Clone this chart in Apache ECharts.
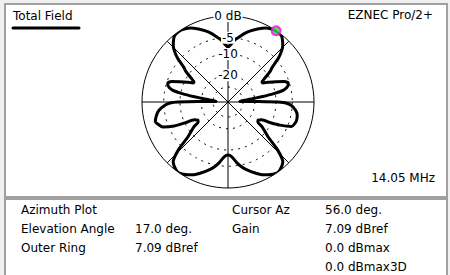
<!DOCTYPE html>
<html><head><meta charset="utf-8">
<script src="https://cdn.jsdelivr.net/npm/echarts@6/dist/echarts.min.js"></script>
<style>html,body{margin:0;padding:0;background:#f0f0f0;} #c{width:450px;height:275px;}</style>
</head><body><div id="c"></div>
<script>
// Azimuth (deg, EZNEC convention: 0 = right, counter-clockwise) and gain (dB relative to max)
const azimuth = [0,1,2,4,6,8,10,12,15,17.5,20,23,26,29,31,33,36,38,41,44,46,51,56,59,63,68,72,76,80,84,87,90,
  93,96,100,104,108,112,117,121,124,129,134,136,139,142,144,147,149,151,154,157,160,162.5,165,168,170,172,174,176,178,179,180,
  181,183,187,191,195,198,201,204,206,208,211,213.7,216,221,224,227.5,232.6,236,241,245,249,254,258,262,266,270,
  274,278,282,286,291,295,299,304,307.4,312.5,316,319,324,326.3,329,332,334,336,339,342,345,349,353,357,359,360];
const gainDb = [-9.3,-18,-31,-33.8,-27.8,-19.9,-11.5,-7.1,-5.6,-5.3,-6.2,-8.6,-11.1,-13.6,-13.1,-11.5,-8.6,-7.4,-4.3,-2.35,-1.5,-0.2,0,-0.2,-0.6,-1.5,-2.35,-3.3,-4.5,-5.6,-6.8,-7.7,
  -6.8,-5.6,-4.5,-3.3,-2.35,-1.5,-0.6,-0.2,0,-0.2,-1.5,-2.35,-4.3,-7.4,-8.6,-11.5,-13.1,-13.6,-11.1,-8.6,-6.2,-5.3,-5.6,-7.1,-11.5,-19.9,-27.8,-33.8,-31,-18,-9.3,
  -6.8,-5.3,-3.6,-2.8,-2.3,-2.8,-3.6,-6.5,-10.4,-14,-15.4,-15,-12.3,-8.3,-3.8,-1.0,-0.1,0,-0.6,-1.2,-2.1,-3.3,-4.4,-5.9,-7.7,-8.3,
  -7.7,-5.9,-4.4,-3.3,-2.1,-1.2,-0.6,0,-0.1,-1.0,-3.8,-8.3,-12.3,-15,-15.4,-14,-10.4,-7.1,-4.0,-3.5,-3.3,-3.4,-4.0,-5.3,-6.8,-9.3];
const ringDb = [0,-5,-10,-20,-30];
const ringLabels = ['0 dB','-5','-10','-20',''];
const cursorAz = [56];
const cursorDb = [0];
const legendName = 'Total Field';
const programName = 'EZNEC Pro/2+';
const freqText = '14.05 MHz';
const infoCol1 = ['Azimuth Plot','Elevation Angle','Outer Ring'];
const infoCol2 = ['','17.0 deg.','7.09 dBref'];
const infoCol3 = ['Cursor Az','Gain'];
const infoCol4 = ['56.0 deg.','7.09 dBref','0.0 dBmax','0.0 dBmax3D'];

// ARRL log radial scale
function arrl(db){ const d = Math.max(db, -45); return Math.pow(0.89, -d/2); }

const FONT = '12px "DejaVu Sans"';
const chart = echarts.init(document.getElementById('c'), null, {renderer:'svg'});

const graphics = [
  {type:'rect', z:-100, shape:{x:4,y:3,width:444,height:195}, style:{fill:'#a0a0a0'}},
  {type:'rect', z:-99, shape:{x:6,y:5,width:440,height:191}, style:{fill:'#ffffff'}},
  {type:'rect', z:-100, shape:{x:4,y:198,width:444,height:82}, style:{fill:'#a0a0a0'}},
  {type:'rect', z:-99, shape:{x:6,y:200,width:440,height:80}, style:{fill:'#ffffff'}},
  {type:'text', z:50, x:13, y:16, style:{text:legendName, font:FONT, fill:'#000', align:'left', verticalAlign:'middle'}},
  {type:'line', z:50, shape:{x1:13,y1:28,x2:79,y2:28}, style:{stroke:'#000', lineWidth:3, lineCap:'round'}},
  {type:'text', z:50, x:433, y:15, style:{text:programName, font:FONT, fill:'#000', align:'right', verticalAlign:'middle'}},
  {type:'text', z:50, x:435, y:178, style:{text:freqText, font:FONT, fill:'#000', align:'right', verticalAlign:'middle'}}
];
const rowY = [210, 229, 248, 267];
const colX = [21, 135, 232, 325];
[infoCol1, infoCol2, infoCol3, infoCol4].forEach((col, ci) => {
  col.forEach((t, ri) => {
    if (!t) return;
    graphics.push({type:'text', z:50, x:colX[ci], y:rowY[ri], style:{text:t, font:FONT, fill:'#000', align:'left', verticalAlign:'middle'}});
  });
});

const ringData = ringDb.map((d,i)=>[arrl(d), 90, i]);

chart.setOption({
  animation:false,
  graphic: graphics,
  polar: {center:[228,102], radius:86},
  angleAxis: {type:'value', min:0, max:360, interval:45, startAngle:0, clockwise:false,
    axisLine:{show:true, lineStyle:{color:'#000', width:1}},
    axisTick:{show:false}, axisLabel:{show:false},
    splitLine:{show:true, lineStyle:{color:'#000', width:1}}},
  radiusAxis: {type:'value', min:0, max:1, axisLine:{show:false}, axisTick:{show:false},
    axisLabel:{show:false}, splitLine:{show:false}},
  series: [
    {type:'custom', coordinateSystem:'polar', z:3, silent:true,
      data: ringData,
      renderItem: function(params, api){
        const cs = params.coordSys;
        const p = api.coord([api.value(0), api.value(1)]);
        const rad = Math.hypot(p[0]-cs.cx, p[1]-cs.cy);
        const idx = api.value(2);
        if (idx === 0) return {type:'group', children:[]};
        return {type:'circle', shape:{cx:cs.cx, cy:cs.cy, r:rad},
          style:{fill:null, stroke:'#000', lineWidth:1, lineDash:[2,5]}};
      }},
    {type:'line', coordinateSystem:'polar', z:5, showSymbol:false, smooth:0.25,
      data: azimuth.map((a,i)=>[arrl(gainDb[i]), a]),
      lineStyle:{color:'#000', width:3}},
    {type:'custom', coordinateSystem:'polar', z:10, silent:true,
      data: ringData,
      renderItem: function(params, api){
        const cs = params.coordSys;
        const p = api.coord([api.value(0), api.value(1)]);
        const idx = api.value(2);
        if (!ringLabels[idx]) return {type:'group', children:[]};
        return {type:'text', x:p[0], y:p[1],
          style:{text:ringLabels[idx], font:FONT, fill:'#000', align:'center', verticalAlign:'middle',
            backgroundColor:'#fff', padding:[0,1]}};
      }},
    {type:'scatter', coordinateSystem:'polar', z:12,
      data: cursorAz.map((a,i)=>[arrl(cursorDb[i]), a]),
      symbol:'circle', symbolSize:9,
      itemStyle:{color:'#33cc33', borderColor:'#ff00ff', borderWidth:2}}
  ]
});
</script></body></html>
